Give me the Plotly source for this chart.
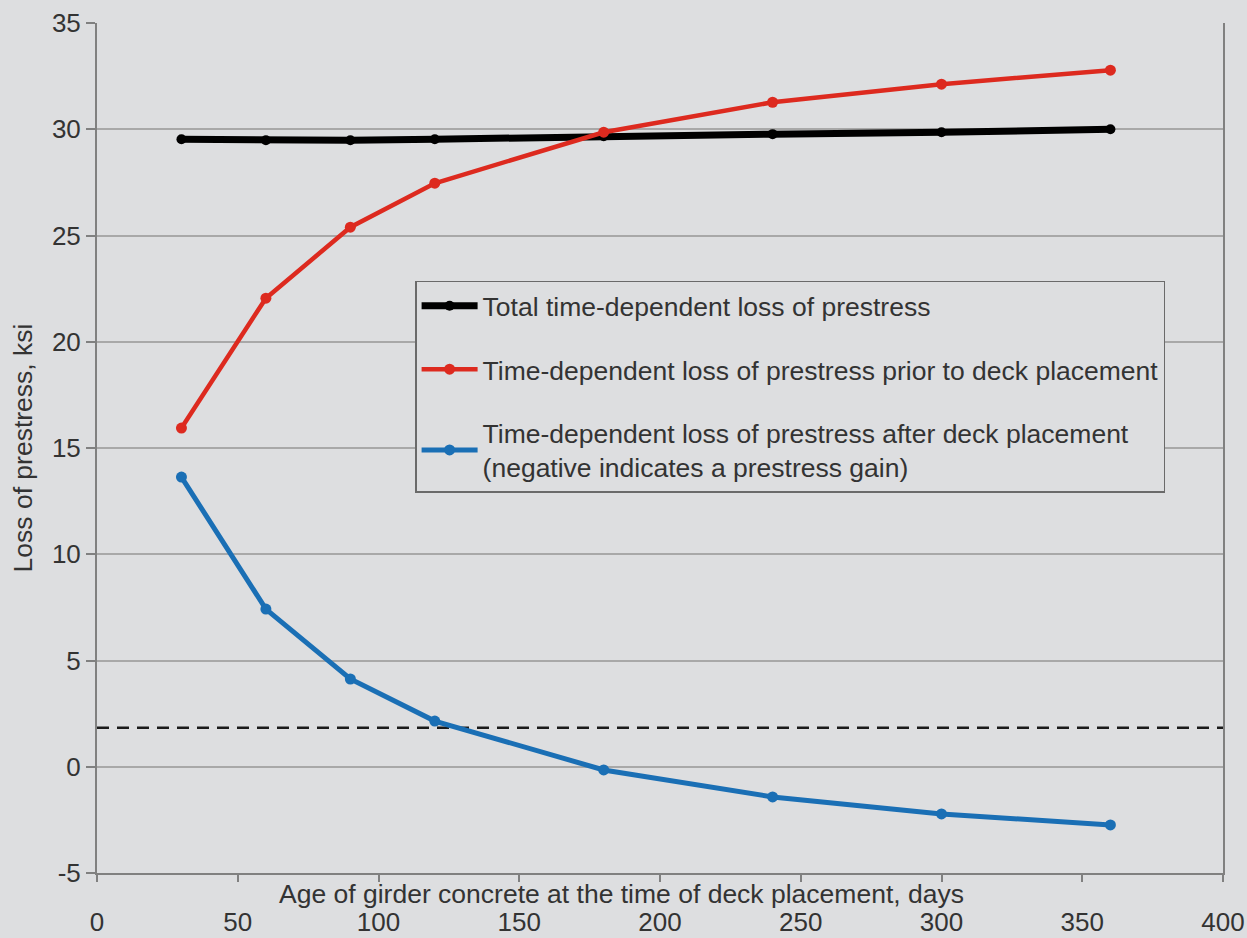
import plotly.graph_objects as go

age_days = [30, 60, 90, 120, 180, 240, 300, 360]
total_loss = [29.53, 29.48, 29.48, 29.53, 29.67, 29.77, 29.86, 30.0]
loss_before_deck = [15.94, 22.05, 25.39, 27.46, 29.86, 31.27, 32.12, 32.78]
loss_after_deck = [13.63, 7.42, 4.13, 2.15, -0.15, -1.42, -2.22, -2.74]
dashed_level = 1.83
dashed_x = [0, 400]

x_ticks = [0, 50, 100, 150, 200, 250, 300, 350, 400]
y_ticks = [-5, 0, 5, 10, 15, 20, 25, 30, 35]
y_tick_labels = ["-5", "0", "5", "10", "15", "20", "25", "30", "35"]

names = [
    "Total time-dependent loss of prestress",
    "Time-dependent loss of prestress prior to deck placement",
    "Time-dependent loss of prestress after deck placement<br>(negative indicates a prestress gain)",
]

FONT = "Liberation Sans, Arial, sans-serif"
BG = "#dddee0"
TXT = "#333333"

fig = go.Figure()
fig.add_trace(go.Scatter(
    x=dashed_x, y=[dashed_level, dashed_level], mode="lines",
    line=dict(color="#1a1a1a", width=2.5, dash="12px,8px"),
    showlegend=False, hoverinfo="skip"))
fig.add_trace(go.Scatter(
    x=age_days, y=total_loss, mode="lines+markers", name=names[0],
    line=dict(color="#000000", width=7), marker=dict(size=10, color="#000000"),
    legendgroup="a"))
fig.add_trace(go.Scatter(
    x=age_days, y=loss_before_deck, mode="lines+markers", name=names[1],
    line=dict(color="#dd2a1f", width=4.5), marker=dict(size=11, color="#dd2a1f"),
    legendgroup="b"))
fig.add_trace(go.Scatter(
    x=age_days, y=loss_after_deck, mode="lines+markers", name=names[2],
    line=dict(color="#1a6fb5", width=5), marker=dict(size=11, color="#1a6fb5"),
    legendgroup="c"))

fig.update_layout(
    width=1247, height=938,
    margin=dict(l=97, r=24, t=23, b=65, autoexpand=False),
    paper_bgcolor=BG, plot_bgcolor=BG,
    font=dict(family=FONT, size=26, color=TXT),
    showlegend=True,
    legend=dict(
        x=0.2825, y=0.697, xanchor="left", yanchor="top",
        bgcolor=BG, bordercolor="#6a6a6a", borderwidth=1.5,
        font=dict(family=FONT, size=26.5, color=TXT),
        tracegroupgap=26, traceorder="grouped",
        itemwidth=56,
    ),
    xaxis=dict(
        range=[0, 400], tickvals=x_ticks, showgrid=False, zeroline=False,
        showline=True, linecolor="#808080", linewidth=2,
        ticks="outside", ticklen=7, tickcolor="#808080", tickwidth=1.5,
        ticklabelstandoff=18, automargin=False,
        tickfont=dict(family=FONT, size=26, color=TXT),
    ),
    yaxis=dict(
        range=[-5, 35], tickvals=y_ticks, ticktext=y_tick_labels,
        showgrid=True, gridcolor="#a8a8a8",
        gridwidth=1.5, zeroline=False,
        showline=True, linecolor="#808080", linewidth=2, mirror=True,
        ticks="outside", ticklen=9, tickcolor="#808080", tickwidth=1.5,
        automargin=False,
        tickfont=dict(family=FONT, size=26, color=TXT),
        title=dict(text="Loss of prestress, ksi", standoff=12,
                   font=dict(family=FONT, size=26.5, color=TXT)),
    ),
    annotations=[dict(
        text="Age of girder concrete at the time of deck placement, days",
        xref="paper", yref="paper", x=0.466, y=0, yshift=-21,
        xanchor="center", yanchor="middle", showarrow=False,
        font=dict(family=FONT, size=26.5, color=TXT))],
)

fig.write_html(
    "out.html",
    config={"displayModeBar": False},
    post_script="document.body.style.margin='0';document.body.style.background='#dddee0';",
)
